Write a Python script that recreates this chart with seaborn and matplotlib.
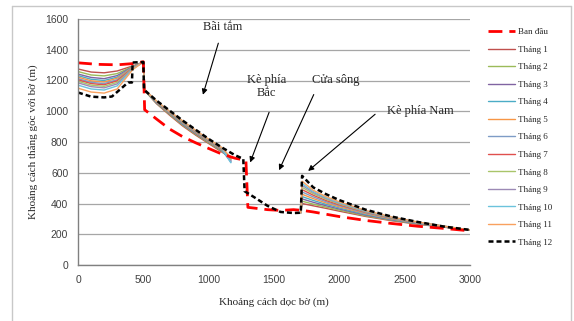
import matplotlib
matplotlib.use("Agg")
import matplotlib.pyplot as plt
import seaborn as sns
import pandas as pd
from matplotlib.lines import Line2D

# ---- data ----
months = ["Tháng %d" % i for i in range(1, 12)]
month_colors = ["#C0504D", "#9BBB59", "#8064A2", "#4BACC6", "#F79646", "#7E9CC6",
                "#E0504D", "#A9C56A", "#9C8AB5", "#6CC3DC", "#F9A15F"]

# left part (beach + north revetment area)
x_left = [0, 100, 200, 300, 420, 500, 510, 600, 700, 800, 900, 1000, 1100, 1170]
y_left = [
    [1275, 1255, 1250, 1262, 1295, 1320, 1135, 1050, 975, 905, 845, 790, 735, 700],
    [1258, 1236, 1230, 1245, 1292, 1320, 1135, 1052, 980, 910, 850, 795, 740, 690],
    [1242, 1220, 1212, 1232, 1290, 1320, 1138, 1055, 985, 915, 855, 800, 745, 680],
    [1232, 1208, 1200, 1222, 1288, 1320, 1138, 1058, 988, 920, 860, 803, 748, 672],
    [1222, 1198, 1190, 1215, 1286, 1320, 1140, 1060, 990, 925, 862, 805, 750, 700],
    [1212, 1188, 1180, 1205, 1284, 1320, 1140, 1062, 992, 928, 865, 808, 752, 668],
    [1205, 1180, 1172, 1198, 1282, 1320, 1140, 1063, 995, 930, 868, 810, 755, 690],
    [1195, 1170, 1162, 1188, 1280, 1320, 1140, 1064, 996, 932, 870, 812, 758, 685],
    [1185, 1160, 1152, 1178, 1278, 1320, 1142, 1065, 998, 935, 872, 815, 760, 675],
    [1170, 1145, 1138, 1165, 1275, 1320, 1142, 1066, 1000, 936, 874, 816, 762, 665],
    [1150, 1125, 1118, 1145, 1272, 1320, 1142, 1067, 1000, 938, 876, 818, 764, 700],
]

# right part (south revetment)
x_right = [1705, 1715, 1800, 1900, 2000, 2200, 2400, 2600, 2800, 3000]
y_right = [
    [340, 400, 385, 368, 350, 316, 288, 265, 246, 227],
    [340, 415, 396, 376, 357, 320, 291, 267, 247, 227],
    [340, 430, 408, 385, 364, 325, 294, 269, 248, 227],
    [340, 445, 420, 394, 371, 330, 297, 271, 249, 227],
    [340, 460, 432, 403, 378, 335, 300, 273, 250, 228],
    [340, 475, 443, 411, 385, 339, 303, 274, 251, 228],
    [340, 490, 454, 419, 391, 343, 305, 276, 251, 228],
    [340, 505, 464, 427, 397, 346, 307, 277, 252, 228],
    [340, 518, 472, 433, 402, 349, 309, 278, 252, 228],
    [340, 530, 478, 438, 406, 352, 311, 279, 253, 228],
    [340, 545, 486, 444, 411, 355, 312, 280, 253, 228],
]

x_init = [0, 150, 300, 420, 500, 510, 600, 700, 800, 900, 1000, 1100, 1200, 1285,
          1300, 1450, 1550, 1650, 1720, 1800, 1900, 2000, 2200, 2400, 2600, 2800, 3000]
y_init = [1315, 1305, 1302, 1310, 1322, 1010, 950, 885, 835, 795, 758, 722, 695, 680,
          375, 360, 355, 360, 355, 345, 330, 315, 290, 270, 252, 238, 222]

x_m12 = [0, 100, 200, 260, 383, 413, 418, 500, 505, 600, 700, 800, 900, 1000, 1100,
         1200, 1265, 1275, 1350, 1450, 1550, 1650, 1705, 1715, 1800, 1900, 2000,
         2200, 2400, 2600, 2800, 3000]
y_m12 = [1122, 1095, 1090, 1096, 1187, 1187, 1317, 1320, 1140, 1070, 1005, 940, 880,
         820, 765, 715, 690, 480, 440, 385, 345, 338, 340, 580, 505, 460, 422,
         360, 315, 280, 250, 228]

sns.set_style("white")
plt.rcParams["font.family"] = ["Liberation Serif", "DejaVu Serif"]

fig = plt.figure(figsize=(5.74, 3.21), dpi=100)
ax = fig.add_axes([78 / 574, 1 - 265 / 321, 392 / 574, 246 / 321])

for i, name in enumerate(months):
    c = month_colors[i]
    sns.lineplot(x=x_left, y=y_left[i], ax=ax, color=c, lw=1.0, sort=False, estimator=None)
    sns.lineplot(x=x_right, y=y_right[i], ax=ax, color=c, lw=1.0, sort=False, estimator=None)

sns.lineplot(x=x_init, y=y_init, ax=ax, color="#FF0000", lw=2.0, sort=False,
             estimator=None, linestyle=(0, (5, 2.5)))
sns.lineplot(x=x_m12, y=y_m12, ax=ax, color="black", lw=1.8, sort=False,
             estimator=None, linestyle=(0, (2, 1.2)))

ax.set_xlim(0, 3000)
ax.set_ylim(0, 1600)
ax.set_xticks(range(0, 3001, 500))
ax.set_yticks(range(0, 1601, 200))
ax.yaxis.grid(True, color="#a6a6a6", lw=0.9)
ax.set_axisbelow(True)
for s in ["top", "right"]:
    ax.spines[s].set_visible(False)
for s in ["left", "bottom"]:
    ax.spines[s].set_color("#808080")
    ax.spines[s].set_linewidth(1.0)
ax.tick_params(axis="both", direction="out", length=3, width=0.8, color="#808080",
               labelsize=7.5, labelcolor="#404040", pad=4)
for lab in ax.get_xticklabels() + ax.get_yticklabels():
    lab.set_family("Liberation Sans")

ax.set_xlabel("Khoảng cách dọc bờ (m)", fontsize=8, labelpad=9)
ax.set_ylabel("Khoảng cách thẳng góc với bờ (m)", fontsize=8, labelpad=5)

# annotations
arr = dict(arrowstyle="-|>", color="black", lw=0.8, mutation_scale=8)
ax.text(1110, 1548, "Bãi tắm", ha="center", va="center", fontsize=9)
ax.annotate("", xy=(950, 1090), xytext=(1080, 1460), arrowprops=arr)
ax.text(1440, 1160, "Kè phía\nBắc", ha="center", va="center", fontsize=9,
        linespacing=1.1)
ax.annotate("", xy=(1310, 650), xytext=(1470, 1010), arrowprops=arr)
ax.text(1975, 1200, "Cửa sông", ha="center", va="center", fontsize=9)
ax.annotate("", xy=(1530, 600), xytext=(1813, 1125), arrowprops=arr)
ax.text(2617, 1000, "Kè phía Nam", ha="center", va="center", fontsize=9)
ax.annotate("", xy=(1745, 600), xytext=(2290, 992), arrowprops=arr)

# legend
handles = [Line2D([], [], color="#FF0000", lw=2.0, linestyle=(0, (5, 2.5)))]
labels = ["Ban đầu"]
for i, name in enumerate(months):
    handles.append(Line2D([], [], color=month_colors[i], lw=1.0))
    labels.append(name)
handles.append(Line2D([], [], color="black", lw=1.8, linestyle=(0, (2, 1.2))))
labels.append("Tháng 12")
fig.legend(handles, labels, loc="upper left", bbox_to_anchor=(488 / 574, 1 - 28 / 321),
           frameon=False, fontsize=6.5, borderpad=0, borderaxespad=0,
           handlelength=3.0, handletextpad=0.3, labelspacing=1.02)

# outer frame
frame_col = "#c8c8c8"
fig.add_artist(Line2D([12 / 574, 12 / 574], [0, 1 - 6 / 321], color=frame_col, lw=1,
                      transform=fig.transFigure))
fig.add_artist(Line2D([12 / 574, 571 / 574], [1 - 6 / 321, 1 - 6 / 321], color=frame_col,
                      lw=1, transform=fig.transFigure))
fig.add_artist(Line2D([571 / 574, 571 / 574], [0, 1 - 6 / 321], color=frame_col, lw=1,
                      transform=fig.transFigure))

fig.savefig("out.png", dpi=100)
